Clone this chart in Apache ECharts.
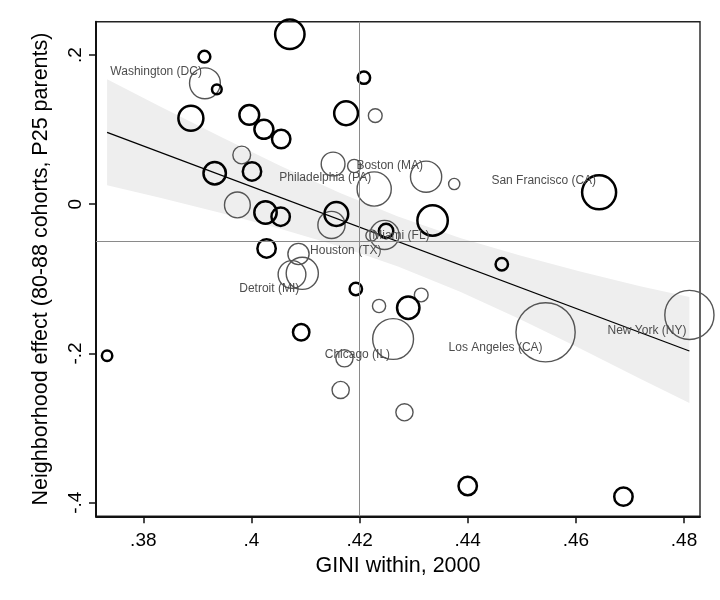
<!DOCTYPE html>
<html><head><meta charset="utf-8">
<script src="https://cdn.jsdelivr.net/npm/echarts@6/dist/echarts.min.js"></script>
<style>html,body{margin:0;padding:0;background:#fff}#c{width:720px;height:600px}</style>
</head><body><div id="c"></div>
<script>
// ---- data ----
const gini = [0.4071,0.3913,0.3914,0.3936,0.3888,0.3996,0.4023,0.4055,0.4208,0.4175,0.4229,0.3982,0.3932,0.4001,0.4151,0.4190,0.4227,0.3974,0.4026,0.4054,0.4157,0.4148,0.4249,0.4246,0.4222,0.4028,0.4087,0.4075,0.4094,0.4323,0.4375,0.4643,0.4335,0.4193,0.4236,0.4290,0.4314,0.4262,0.4092,0.3733,0.4172,0.4165,0.4283,0.4463,0.4544,0.4810,0.4400,0.4688];
const effect = [0.2277,0.1977,0.1621,0.1540,0.1152,0.1196,0.1004,0.0874,0.1696,0.1219,0.1187,0.0660,0.0415,0.0439,0.0539,0.0512,0.0204,-0.0010,-0.0111,-0.0167,-0.0131,-0.0278,-0.0359,-0.0412,-0.0419,-0.0593,-0.0667,-0.0942,-0.0926,0.0369,0.0271,0.0160,-0.0218,-0.1136,-0.1364,-0.1387,-0.1216,-0.1806,-0.1716,-0.2030,-0.2065,-0.2489,-0.2788,-0.0805,-0.1716,-0.1484,-0.3776,-0.3919];
const weight = [2.40,0.45,2.50,0.32,1.77,1.14,1.06,1.00,0.49,1.61,0.53,0.86,1.44,1.00,1.51,0.49,3.06,1.77,1.44,1.00,1.61,1.96,0.64,2.25,0.36,1.00,1.21,2.04,2.72,2.56,0.36,3.17,2.56,0.49,0.49,1.44,0.53,4.33,0.81,0.36,0.81,0.81,0.81,0.49,9.00,6.25,1.00,1.00];
const group = ['B','B','G','B','B','B','B','B','B','B','G','G','B','B','G','G','G','G','B','B','B','G','B','G','G','B','G','G','G','G','G','B','B','B','G','B','G','G','B','B','G','G','G','B','G','G','B','B'];
const cityName = ['','','Washington (DC)','','','','','','','','','','','','','','Philadelphia (PA)','','','','','','','Houston (TX)','','','','','Detroit (MI)','Boston (MA)','','San Francisco (CA)','Miami (FL)','','','','','Chicago (IL)','','','','','','','Los Angeles (CA)','New York (NY)','',''];
const labelsAbove = ['Washington (DC)','Philadelphia (PA)','Boston (MA)','San Francisco (CA)'];

const fitX = [0.3733, 0.4810];
const fitY = [0.0964, -0.1967];
const bandX = [0.3733,0.3831,0.3942,0.4053,0.4164,0.4271,0.4386,0.4497,0.4608,0.4719,0.4810];
const bandUpper = [0.1674,0.1311,0.0906,0.0515,0.0150,-0.0165,-0.0452,-0.0688,-0.0900,-0.1100,-0.1243];
const bandLower = [0.0254,0.0086,-0.0113,-0.0327,-0.0566,-0.0835,-0.1173,-0.1541,-0.1932,-0.2338,-0.2664];

const refGini = 0.4207;
const refEffect = -0.049;

const xTicks = [0.38,0.40,0.42,0.44,0.46,0.48];
const xTickLabels = ['.38','.4','.42','.44','.46','.48'];
const yTicks = [-0.4,-0.2,0,0.2];
const yTickLabels = ['-.4','-.2','0','.2'];

// ---- chart ----
const FONT = 'Liberation Sans, Arial, Helvetica, sans-serif';
function tickFmt(ticks, labels){
  return function(v){
    let best = 0;
    for (let i=1;i<ticks.length;i++) if (Math.abs(ticks[i]-v) < Math.abs(ticks[best]-v)) best = i;
    return labels[best];
  };
}
function circles(g, color, width, shrink){
  const d = [];
  for (let i=0;i<gini.length;i++){
    if (group[i] !== g) continue;
    d.push({value:[gini[i], effect[i]], symbolSize: 20*Math.sqrt(weight[i]) - shrink});
  }
  return {
    type:'scatter', z:4, silent:true, symbol:'circle', data:d,
    itemStyle:{color:'rgba(0,0,0,0)', borderColor:color, borderWidth:width, opacity:1}
  };
}
const labelData = [];
for (let i=0;i<gini.length;i++){
  if (!cityName[i]) continue;
  const up = labelsAbove.indexOf(cityName[i]) >= 0;
  labelData.push({value:[gini[i], effect[i]], name: cityName[i], label:{offset:[0, up ? -11.5 : 15.5]}});
}

const chart = echarts.init(document.getElementById('c'), null, {renderer:'canvas'});
chart.setOption({
  animation:false,
  backgroundColor:'#fff',
  grid:{left:96, right:20, top:21.7, bottom:83.7, show:true, borderColor:'#222', borderWidth:1.4, backgroundColor:'#fff'},
  xAxis:{
    type:'value', min:0.37125, max:0.48296,
    name:'GINI within, 2000', nameLocation:'middle', nameGap:32,
    nameTextStyle:{fontFamily:FONT, fontSize:21.5, color:'#000'},
    axisLine:{show:true, onZero:false, lineStyle:{color:'#111', width:2}},
    axisTick:{show:true, length:7, customValues:xTicks, lineStyle:{color:'#111', width:1.5}},
    axisLabel:{customValues:xTicks, formatter:tickFmt(xTicks,xTickLabels), fontFamily:FONT, fontSize:19, color:'#000', margin:15},
    splitLine:{show:false}
  },
  yAxis:{
    type:'value', min:-0.4182, max:0.2446,
    name:'Neighborhood effect (80-88 cohorts, P25 parents)', nameLocation:'middle', nameGap:44, nameRotate:90,
    nameTextStyle:{fontFamily:FONT, fontSize:21.5, color:'#000'},
    axisLine:{show:true, onZero:false, lineStyle:{color:'#111', width:2}},
    axisTick:{show:true, length:7, customValues:yTicks, lineStyle:{color:'#111', width:1.5}},
    axisLabel:{customValues:yTicks, formatter:tickFmt(yTicks,yTickLabels), rotate:90, fontFamily:FONT, fontSize:19, color:'#000', margin:11},
    splitLine:{show:false}
  },
  series:[
    {type:'scatter', z:1, silent:true, data:[], markLine:{
      silent:true, symbol:'none', animation:false,
      label:{show:false},
      lineStyle:{color:'#8a8a8a', width:1, type:'solid', opacity:1},
      data:[{xAxis:refGini},{yAxis:refEffect}]
    }},
    {type:'custom', z:2, silent:true, data:[0],
      renderItem:function(params, api){
        const pts = [];
        for (let i=0;i<bandX.length;i++) pts.push(api.coord([bandX[i], bandUpper[i]]));
        for (let i=bandX.length-1;i>=0;i--) pts.push(api.coord([bandX[i], bandLower[i]]));
        return {type:'polygon', shape:{points:pts}, style:{fill:'#eeeeee', stroke:null}};
      }
    },
    {type:'line', z:3, silent:true, symbol:'none', data: fitX.map((x,i)=>[x, fitY[i]]),
      lineStyle:{color:'#000', width:1.3, opacity:1}},
    circles('G', '#555555', 1.4, 0.8),
    circles('B', '#000000', 2.5, 1.6),
    {type:'scatter', z:5, silent:true, symbolSize:0, data:labelData,
      itemStyle:{color:'rgba(0,0,0,0)', opacity:1},
      label:{show:true, position:'left', distance:3, formatter:'{b}', fontFamily:FONT, fontSize:12, color:'#4d4d4d'}}
  ]
});
</script>
</body></html>
